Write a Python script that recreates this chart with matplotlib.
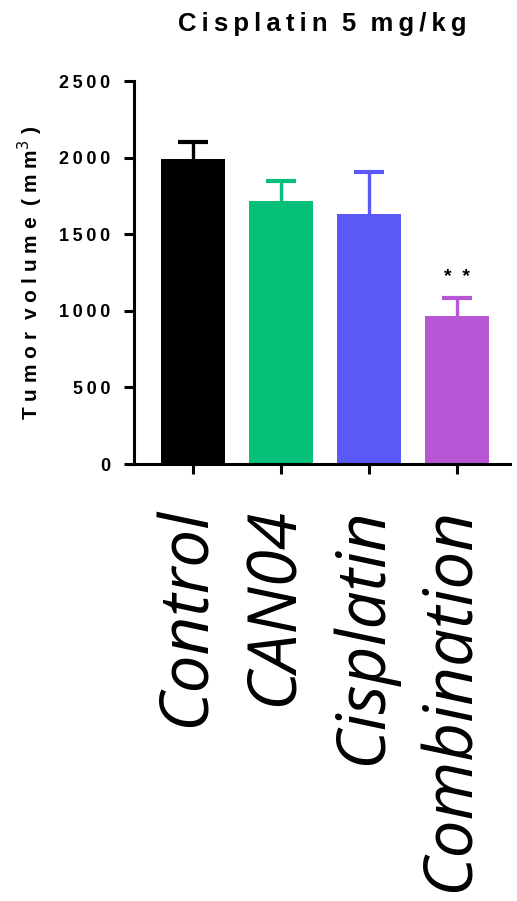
import matplotlib
matplotlib.use("Agg")
import matplotlib.pyplot as plt
import matplotlib.transforms as mtransforms
import numpy as np

groups = ["Control", "CAN04", "Cisplatin", "Combination"]
means = [1989, 1715, 1632, 966]
sem = [115, 132, 276, 118]
colors = ["#000000", "#06BF78", "#5A58F7", "#B857D6"]
yticks = [0, 500, 1000, 1500, 2000, 2500]
signif = {3: "*  *"}

TS = "\u2009"  # thin space to mimic letter spacing
HS = "\u200a"  # hair space


def spaced(s, gap=TS):
    return gap.join(s)


fig = plt.figure(figsize=(5.17, 9.01), dpi=100)
ax = fig.add_axes([0.259, 0.485, 0.727, 0.425])

x = np.arange(len(groups))
for i in range(len(groups)):
    ax.bar(x[i], means[i], width=0.727, color=colors[i], zorder=2)
    top = means[i] + sem[i]
    # upper error bar only
    ax.vlines(x[i], means[i], top, color=colors[i], linewidth=2.4, zorder=1)
    ax.plot([x[i]], [top], marker="_", markersize=21, markeredgewidth=3,
            color=colors[i], zorder=1)

for i, s in signif.items():
    ax.text(x[i], means[i] + sem[i] + 75, s, ha="center", va="bottom",
            fontsize=14, fontweight="bold", family="Liberation Sans")

ax.set_xlim(-0.67, 3.6)
ax.set_ylim(0, 2500)

for side in ["top", "right"]:
    ax.spines[side].set_visible(False)
for side in ["left", "bottom"]:
    ax.spines[side].set_linewidth(2.2)
ax.tick_params(axis="both", width=2.2, length=7, direction="out")
ax.tick_params(axis="y", pad=10)
ax.tick_params(axis="x", pad=24)

ax.set_yticks(yticks)
ax.set_yticklabels([spaced(str(t)) for t in yticks], family="Liberation Sans",
                   fontweight="bold", fontsize=13)
ax.set_xticks(x)
ax.set_xticklabels(groups, rotation=90, family="Open Sans", style="italic",
                   fontsize=48.5, va="top", ha="center")
# nudge the big rotated labels a bit to the left, like the original
shift = mtransforms.ScaledTranslation(-6 / 100, 0, fig.dpi_scale_trans)
for lab in ax.get_xticklabels():
    lab.set_transform(lab.get_transform() + shift)

g = TS + HS
ax.set_ylabel(spaced("Tumor", g) + "  " + spaced("volume", g) + "  "
              + "(" + g + "m" + g + "m$^{3}$" + g + ")",
              family="Liberation Sans", fontweight="bold", fontsize=15, labelpad=10)
ax.set_title(spaced("Cisplatin") + "  " + "5" + "  " + spaced("mg/kg"),
             family="Liberation Sans", fontweight="bold", fontsize=18.5, pad=36)

fig.savefig("out.png", dpi=100)
